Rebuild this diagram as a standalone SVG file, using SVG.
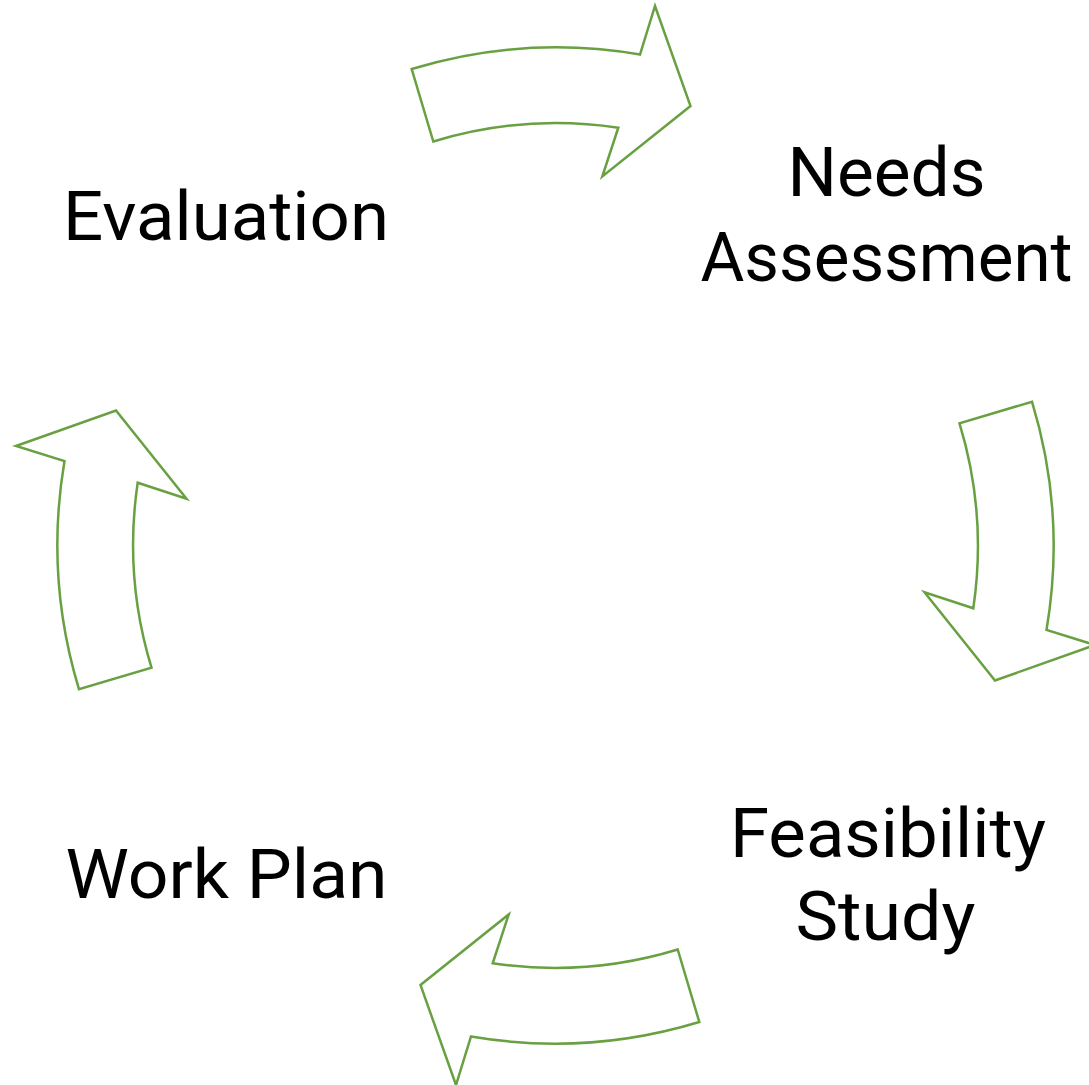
<svg xmlns="http://www.w3.org/2000/svg" xmlns:xlink="http://www.w3.org/1999/xlink" width="1089" height="1085" viewBox="0 0 1089 1085">
<style>
.lbl{font-family:Roboto,"Liberation Sans",sans-serif;font-size:69px;fill:#000;text-anchor:middle}
.arr{fill:#fff;stroke:#68A042;stroke-width:2.5;stroke-linejoin:miter}
</style>
<defs>
<path id="curvedArrow" d="M 411.7 69 A 498 498 0 0 1 640 54.5 L 655 6 L 690.5 106 L 602.3 176.5 L 618.3 127.7 A 422 422 0 0 0 433.3 141.5 Z"/>
</defs>
<rect width="1089" height="1085" fill="#fff"/>
<g id="connectors">
<use xlink:href="#curvedArrow" class="arr"/>
<use xlink:href="#curvedArrow" class="arr" transform="rotate(90 555.5 545.5)"/>
<use xlink:href="#curvedArrow" class="arr" transform="rotate(180 555.5 545.5)"/>
<use xlink:href="#curvedArrow" class="arr" transform="rotate(270 555.5 545.5)"/>
</g>
<g id="node-evaluation">
<text class="lbl" x="226" y="240" textLength="326" lengthAdjust="spacingAndGlyphs">Evaluation</text>
</g>
<g id="node-needs-assessment">
<text class="lbl" x="886.5" y="196" textLength="198" lengthAdjust="spacingAndGlyphs">Needs</text>
<text class="lbl" x="886.5" y="281" textLength="372" lengthAdjust="spacingAndGlyphs">Assessment</text>
</g>
<g id="node-feasibility-study">
<text class="lbl" x="888" y="857" textLength="316" lengthAdjust="spacingAndGlyphs">Feasibility</text>
<text class="lbl" x="885.5" y="940" textLength="180" lengthAdjust="spacingAndGlyphs">Study</text>
</g>
<g id="node-work-plan">
<text class="lbl" x="226.5" y="898" textLength="322" lengthAdjust="spacingAndGlyphs">Work Plan</text>
</g>
</svg>
